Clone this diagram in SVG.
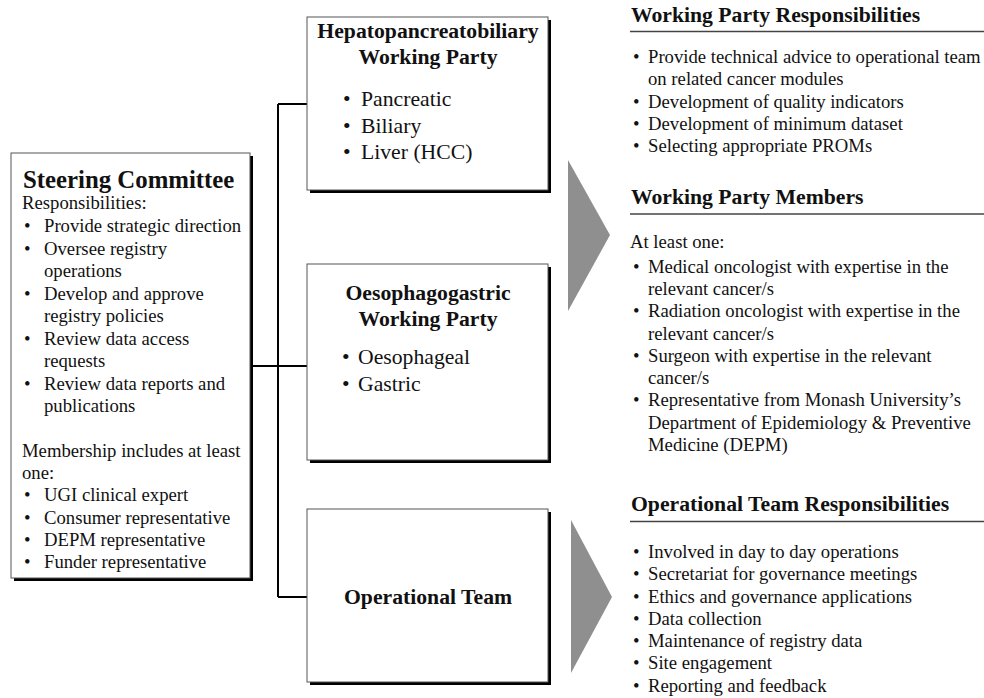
<svg xmlns="http://www.w3.org/2000/svg" width="984" height="698" viewBox="0 0 984 698">
<style>
.bx{fill:#fff;stroke:#555;stroke-width:1}
.sh{fill:#000}
.t{font-family:"Liberation Serif","Times New Roman",serif;font-size:18.7px;fill:#111}
.tb{font-family:"Liberation Serif","Times New Roman",serif;font-weight:bold;font-size:21.7px;fill:#111}
.tm{font-family:"Liberation Serif","Times New Roman",serif;font-size:21.7px;fill:#111}
.c{fill:none;stroke:#000;stroke-width:2}
.ul{stroke:#444;stroke-width:1.5}
.ar{fill:#8f8f8f}
</style>
<rect width="984" height="698" fill="#fff"/>
<g id="connectors">
<path class="c" d="M250 366H278M278 104V597M278 104H308M278 366H308M278 597H308"/>
</g>
<g id="steering">
<rect class="sh" x="14" y="156" width="239" height="425"/>
<rect class="bx" x="11" y="153" width="239" height="425"/>
<text class="tb" x="23" y="188" font-size="24.8" style="font-size:24.8px">Steering Committee</text>
<g class="t">
<text x="22" y="209">Responsibilities:</text>
<text x="24" y="232">•</text><text x="44" y="232">Provide strategic direction</text>
<text x="24" y="255">•</text><text x="44" y="255">Oversee registry</text>
<text x="44" y="277">operations</text>
<text x="24" y="300">•</text><text x="44" y="300">Develop and approve</text>
<text x="44" y="322">registry policies</text>
<text x="24" y="345">•</text><text x="44" y="345">Review data access</text>
<text x="44" y="367">requests</text>
<text x="24" y="390">•</text><text x="44" y="390">Review data reports and</text>
<text x="44" y="412">publications</text>
<text x="22" y="457">Membership includes at least</text>
<text x="22" y="479">one:</text>
<text x="24" y="501">•</text><text x="44" y="501">UGI clinical expert</text>
<text x="24" y="524">•</text><text x="44" y="524">Consumer representative</text>
<text x="24" y="546">•</text><text x="44" y="546">DEPM representative</text>
<text x="24" y="568">•</text><text x="44" y="568">Funder representative</text>
</g>
</g>
<g id="hpb">
<rect class="sh" x="310" y="20" width="241" height="173"/>
<rect class="bx" x="307" y="17" width="241" height="173"/>
<text class="tb" x="428" y="38" text-anchor="middle">Hepatopancreatobiliary</text>
<text class="tb" x="428" y="64" text-anchor="middle">Working Party</text>
<g class="tm">
<text x="343" y="106">•</text><text x="361" y="106">Pancreatic</text>
<text x="343" y="133">•</text><text x="361" y="133">Biliary</text>
<text x="343" y="159">•</text><text x="361" y="159">Liver (HCC)</text>
</g>
</g>
<g id="oeso">
<rect class="sh" x="310" y="267" width="241" height="196"/>
<rect class="bx" x="307" y="264" width="241" height="196"/>
<text class="tb" x="428" y="300" text-anchor="middle">Oesophagogastric</text>
<text class="tb" x="428" y="326" text-anchor="middle">Working Party</text>
<g class="tm">
<text x="342" y="364">•</text><text x="358" y="364">Oesophageal</text>
<text x="342" y="391">•</text><text x="358" y="391">Gastric</text>
</g>
</g>
<g id="optTeam">
<rect class="sh" x="310" y="512" width="241" height="173"/>
<rect class="bx" x="307" y="509" width="241" height="173"/>
<text class="tb" x="428" y="604" text-anchor="middle">Operational Team</text>
</g>
<g id="arrows">
<polygon class="ar" points="568,160 610,235 568,311"/>
<polygon class="ar" points="571,520 612,597 571,673"/>
</g>
<g id="wpResp">
<text class="tb" x="631" y="22">Working Party Responsibilities</text>
<line class="ul" x1="630" y1="31.5" x2="984" y2="31.5"/>
<g class="t">
<text x="633" y="63">•</text><text x="648" y="63">Provide technical advice to operational team</text>
<text x="648" y="85">on related cancer modules</text>
<text x="633" y="108">•</text><text x="648" y="108">Development of quality indicators</text>
<text x="633" y="130">•</text><text x="648" y="130">Development of minimum dataset</text>
<text x="633" y="152">•</text><text x="648" y="152">Selecting appropriate PROMs</text>
</g>
</g>
<g id="wpMembers">
<text class="tb" x="631" y="204">Working Party Members</text>
<line class="ul" x1="630" y1="214" x2="984" y2="214"/>
<g class="t">
<text x="630" y="248">At least one:</text>
<text x="633" y="273">•</text><text x="648" y="273">Medical oncologist with expertise in the</text>
<text x="648" y="295">relevant cancer/s</text>
<text x="633" y="317">•</text><text x="648" y="317">Radiation oncologist with expertise in the</text>
<text x="648" y="340">relevant cancer/s</text>
<text x="633" y="362">•</text><text x="648" y="362">Surgeon with expertise in the relevant</text>
<text x="648" y="384">cancer/s</text>
<text x="633" y="406">•</text><text x="648" y="406">Representative from Monash University’s</text>
<text x="648" y="429">Department of Epidemiology &amp; Preventive</text>
<text x="648" y="451">Medicine (DEPM)</text>
</g>
</g>
<g id="opResp">
<text class="tb" x="631" y="511">Operational Team Responsibilities</text>
<line class="ul" x1="630" y1="521.5" x2="984" y2="521.5"/>
<g class="t">
<text x="633" y="558">•</text><text x="648" y="558">Involved in day to day operations</text>
<text x="633" y="580">•</text><text x="648" y="580">Secretariat for governance meetings</text>
<text x="633" y="603">•</text><text x="648" y="603">Ethics and governance applications</text>
<text x="633" y="625">•</text><text x="648" y="625">Data collection</text>
<text x="633" y="647">•</text><text x="648" y="647">Maintenance of registry data</text>
<text x="633" y="669">•</text><text x="648" y="669">Site engagement</text>
<text x="633" y="692">•</text><text x="648" y="692">Reporting and feedback</text>
</g>
</g>
</svg>
